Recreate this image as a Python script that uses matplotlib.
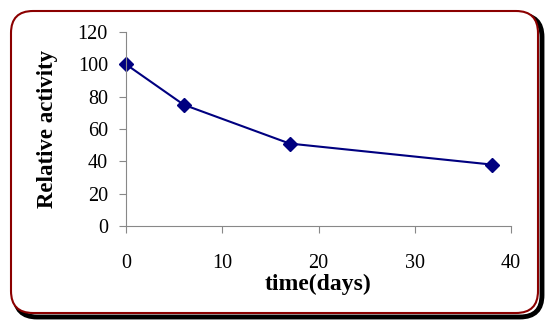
import matplotlib.pyplot as plt
from matplotlib.patches import FancyBboxPatch

# datos
tiempo = [0, 6, 17, 38]
actividad = [100, 75, 51, 38]
xticks = [0, 10, 20, 30, 40]
yticks = [0, 20, 40, 60, 80, 100, 120]

plt.rcParams['font.family'] = ['Liberation Serif', 'DejaVu Serif']

fig = plt.figure(figsize=(5.5, 3.28), dpi=100)

# marco redondeado con sombra (en pulgadas, 100 px = 1 in)
W, H = 550, 328
x0, y0, x1, y1 = 11, 11, 538, 313
r = 22


def caja(dx, dy, **kw):
    return FancyBboxPatch(((x0 + r + dx) / 100, (H - y1 + r - dy) / 100),
                          (x1 - x0 - 2 * r) / 100, (y1 - y0 - 2 * r) / 100,
                          boxstyle=f"round,pad={r / 100},rounding_size={r / 100}",
                          transform=fig.dpi_scale_trans, **kw)


fig.patches.append(caja(4, 4, facecolor='none', edgecolor='black',
                        linewidth=3.5, zorder=0))
fig.patches.append(caja(0, 0, facecolor='white', edgecolor='#8B0000',
                        linewidth=1.5, zorder=1))

ax = fig.add_axes([126 / W, 1 - 226 / H, (511 - 126) / W, (226 - 32) / H])
ax.set_zorder(3)
ax.patch.set_alpha(0)
ax.plot(tiempo, actividad, color='#000080', linewidth=1.5, marker='D',
        markersize=7, clip_on=False)
ax.set_xlim(0, 40)
ax.set_ylim(0, 120)
ax.set_xticks(xticks)
ax.set_yticks(yticks)
for s in ['top', 'right']:
    ax.spines[s].set_visible(False)
for s in ['left', 'bottom']:
    ax.spines[s].set_color('#888888')
ax.tick_params(colors='#888888', labelcolor='black', labelsize=14.5,
               length=5, direction='out')
ax.tick_params(axis='y', pad=8)
ax.tick_params(axis='x', pad=15)
ax.set_xlabel('time(days)', fontsize=17, fontweight='bold', labelpad=1)
ax.set_ylabel('Relative activity', fontsize=16.5, fontweight='bold',
              labelpad=14)

fig.savefig('out.png', dpi=100)
